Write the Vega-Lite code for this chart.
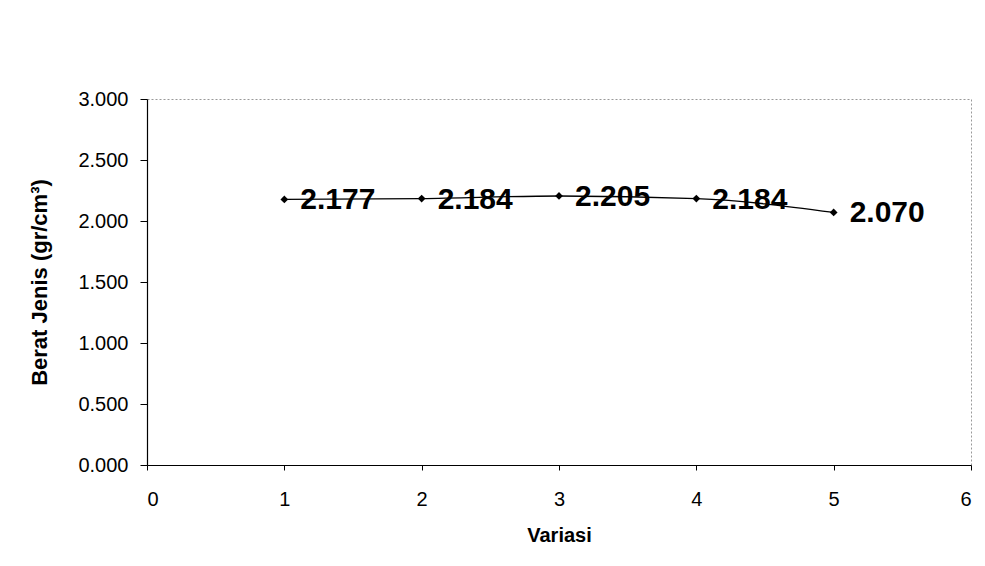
{
  "$schema": "https://vega.github.io/schema/vega-lite/v6.json",
  "width": 824,
  "height": 366,
  "autosize": {"type": "none"},
  "padding": {"left": 147, "top": 99, "right": 14, "bottom": 101},
  "background": "white",
  "config": {
    "font": "Liberation Sans",
    "view": {"stroke": "#999999", "strokeWidth": 1, "strokeDash": [2, 2]}
  },
  "data": {
    "values": [
      {"Variasi": 1, "BJ": 2.177, "label": "2.177"},
      {"Variasi": 2, "BJ": 2.184, "label": "2.184"},
      {"Variasi": 3, "BJ": 2.205, "label": "2.205"},
      {"Variasi": 4, "BJ": 2.184, "label": "2.184"},
      {"Variasi": 5, "BJ": 2.070, "label": "2.070"}
    ]
  },
  "encoding": {
    "x": {
      "field": "Variasi",
      "type": "quantitative",
      "scale": {"domain": [0, 6], "nice": false, "zero": false},
      "axis": {
        "title": "Variasi",
        "values": [0, 1, 2, 3, 4, 5, 6],
        "format": "d",
        "grid": false,
        "domainColor": "black",
        "domainWidth": 1.2,
        "tickColor": "black",
        "tickSize": 5,
        "labelFont": "Liberation Sans",
        "labelFontSize": 20,
        "labelColor": "black",
        "labelPadding": 19,
        "titleFont": "Liberation Sans",
        "titleFontSize": 20,
        "titleFontWeight": "bold",
        "titleColor": "black",
        "titlePadding": 16
      }
    },
    "y": {
      "field": "BJ",
      "type": "quantitative",
      "scale": {"domain": [0, 3], "nice": false},
      "axis": {
        "title": "Berat Jenis (gr/cm³)",
        "values": [0, 0.5, 1, 1.5, 2, 2.5, 3],
        "format": ".3f",
        "grid": false,
        "domainColor": "black",
        "domainWidth": 1.2,
        "tickColor": "black",
        "tickSize": 7,
        "labelFont": "Liberation Sans",
        "labelFontSize": 20,
        "labelColor": "black",
        "labelPadding": 12,
        "titleFont": "Liberation Sans",
        "titleFontSize": 22,
        "titleFontWeight": "bold",
        "titleColor": "black",
        "titlePadding": 26
      }
    }
  },
  "layer": [
    {
      "mark": {"type": "line", "color": "black", "strokeWidth": 1.3, "interpolate": "monotone"}
    },
    {
      "mark": {"type": "point", "shape": "diamond", "filled": true, "color": "black", "size": 60, "opacity": 1}
    },
    {
      "mark": {"type": "text", "align": "left", "baseline": "middle", "dx": 16, "dy": 1, "fontSize": 30, "fontWeight": "bold", "font": "Liberation Sans", "color": "black"},
      "encoding": {"text": {"field": "label"}}
    }
  ]
}
